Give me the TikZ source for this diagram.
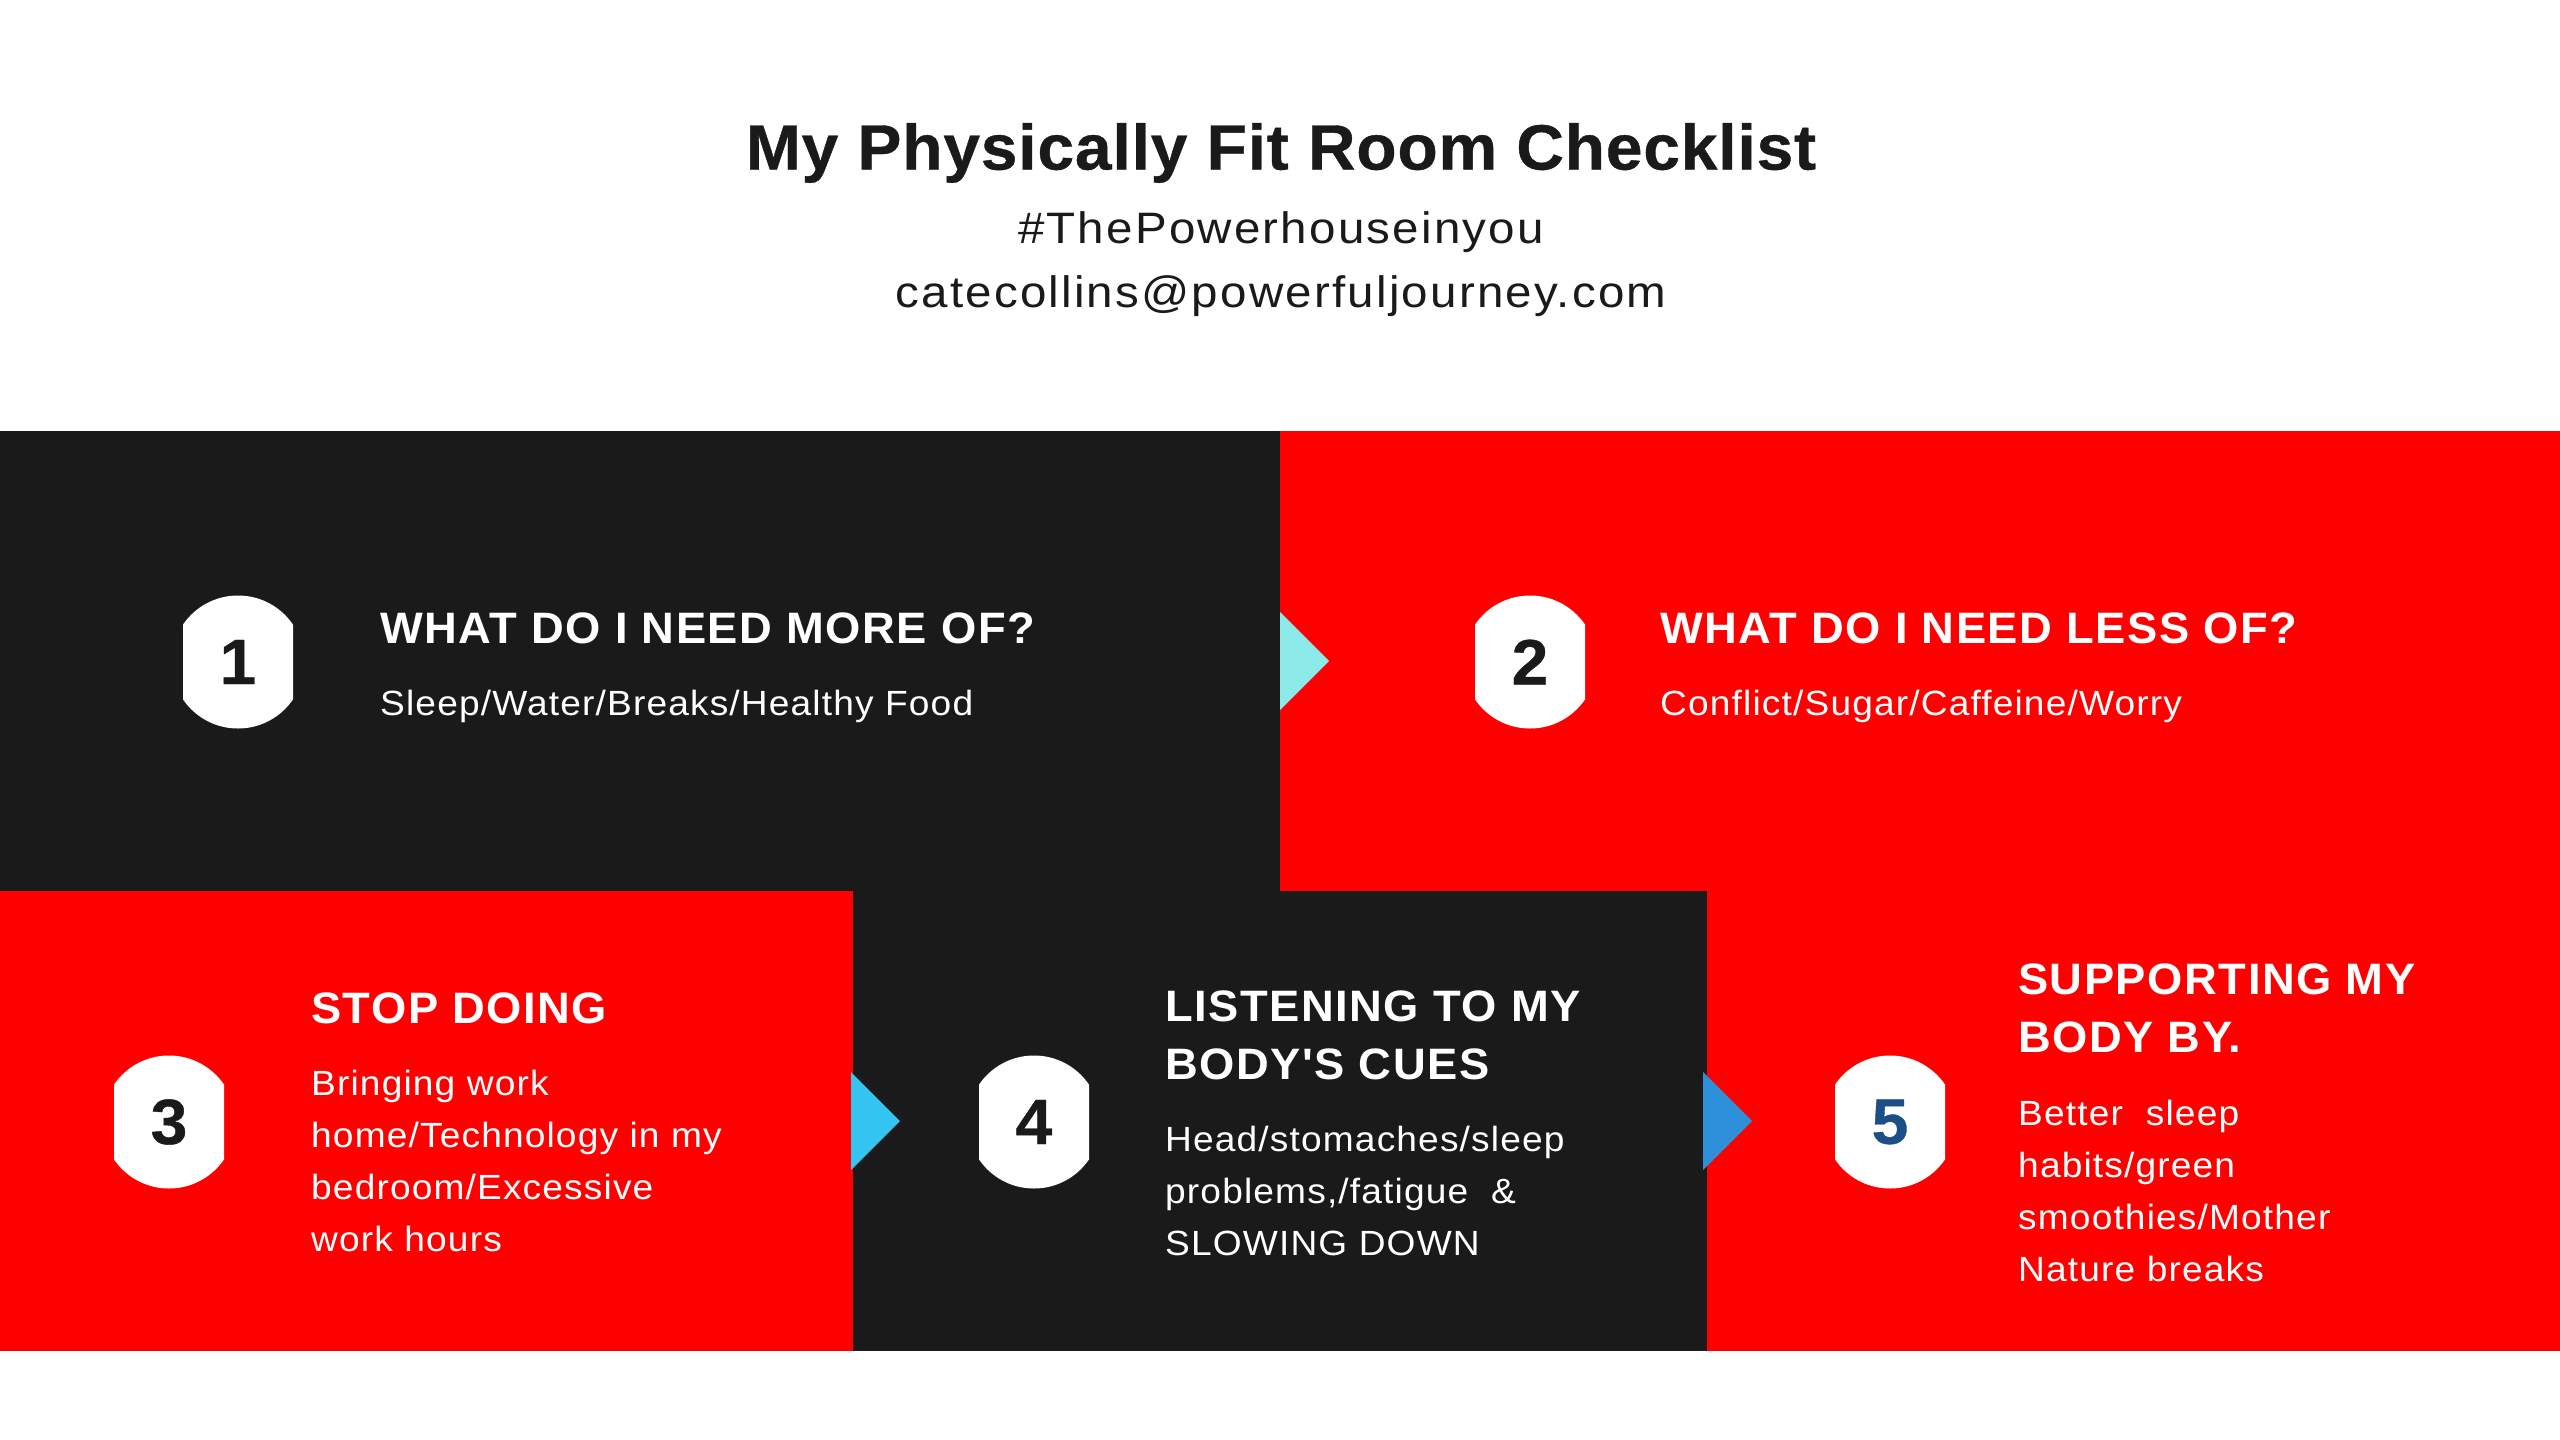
\documentclass[tikz,border=0pt]{standalone}
\usepackage{fontspec}
\setmainfont{Liberation Sans}
\newfontfamily\titlefont{Liberation Sans}[LetterSpace=1.3,FakeStretch=1.03,BoldFont={*-Bold},BoldFeatures={FakeBold=0.6}]
\newfontfamily\headfont{Liberation Sans}[LetterSpace=3.5,FakeStretch=1.03,BoldFont={*-Bold}]
\newfontfamily\subfont{Liberation Sans}[LetterSpace=5,FakeStretch=1.08]
\newfontfamily\bodyfont{Liberation Sans}[LetterSpace=3.3,FakeStretch=1.06]
\definecolor{panelblack}{HTML}{1A1A1A}
\definecolor{panelred}{HTML}{FF0000}
\definecolor{arrowa}{HTML}{8CEBE8}
\definecolor{arrowb}{HTML}{33C5F0}
\definecolor{arrowc}{HTML}{2E90DB}
\definecolor{numblue}{HTML}{1B4F86}
\tikzset{
  x=1pt,y=-1pt,
  badge/.style={rectangle,inner sep=0pt,minimum width=110pt,minimum height=133pt,font=\titlefont\fontsize{64}{64}\selectfont\bfseries,text=panelblack,
    path picture={\fill[white] (path picture bounding box.center) circle (66.5pt);}},
  heading/.style={anchor=north west,inner sep=0pt,align=left,text=white,font=\headfont\fontsize{44}{58}\selectfont\bfseries},
  body/.style={anchor=north west,inner sep=0pt,align=left,text=white,font=\bodyfont\fontsize{35}{52}\selectfont},
  titletext/.style={inner sep=0pt,text=panelblack}
}
\begin{document}
\begin{tikzpicture}
\useasboundingbox (0,0) rectangle (2560,1440);
\fill[white] (0,0) rectangle (2560,1440);
\fill[panelblack] (0,431) rectangle (1280,891);
\fill[panelred] (1280,431) rectangle (2560,1351);
\fill[panelred] (0,891) rectangle (853,1351);
\fill[panelblack] (853,891) rectangle (1707,1351);
\fill[arrowa] (1280,612) -- (1329,661) -- (1280,710) -- cycle;
\fill[arrowb] (851,1072) -- (900,1121) -- (851,1170) -- cycle;
\fill[arrowc] (1703,1072) -- (1752,1121) -- (1703,1170) -- cycle;
\node[titletext,font=\titlefont\fontsize{64}{64}\selectfont\bfseries] (title) at (1281,153) {My Physically Fit Room Checklist};
\node[titletext,font=\subfont\fontsize{44}{44}\selectfont] (tag) at (1281,232) {\#ThePowerhouseinyou};
\node[titletext,font=\subfont\fontsize{44}{44}\selectfont] (mail) at (1281,296) {catecollins@powerfuljourney.com};
\node[badge] (b1) at (238,662) {1};
\node[badge] (b2) at (1530,662) {2};
\node[badge] (b3) at (169,1122) {3};
\node[badge] (b4) at (1034,1122) {4};
\node[badge,text=numblue] (b5) at (1890,1122) {5};
\node[heading] (h1) at (380,613) {WHAT DO I NEED MORE OF?};
\node[body] (t1) at (380,690) {Sleep/Water/Breaks/Healthy Food};
\node[heading] (h2) at (1660,613) {WHAT DO I NEED LESS OF?};
\node[body] (t2) at (1660,690) {Conflict/Sugar/Caffeine/Worry};
\node[heading] (h3) at (311,993) {STOP DOING};
\node[body] (t3) at (311,1070) {Bringing work\\home/Technology in my\\bedroom/Excessive\\work hours};
\node[heading] (h4) at (1165,991) {LISTENING TO MY\\BODY'S CUES};
\node[body] (t4) at (1165,1126) {Head/stomaches/sleep\\problems,/fatigue\ \ \&\\SLOWING DOWN};
\node[heading] (h5) at (2018,964) {SUPPORTING MY\\BODY BY.};
\node[body] (t5) at (2018,1100) {Better\ \ sleep\\habits/green\\smoothies/Mother\\Nature breaks};
\end{tikzpicture}
\end{document}
